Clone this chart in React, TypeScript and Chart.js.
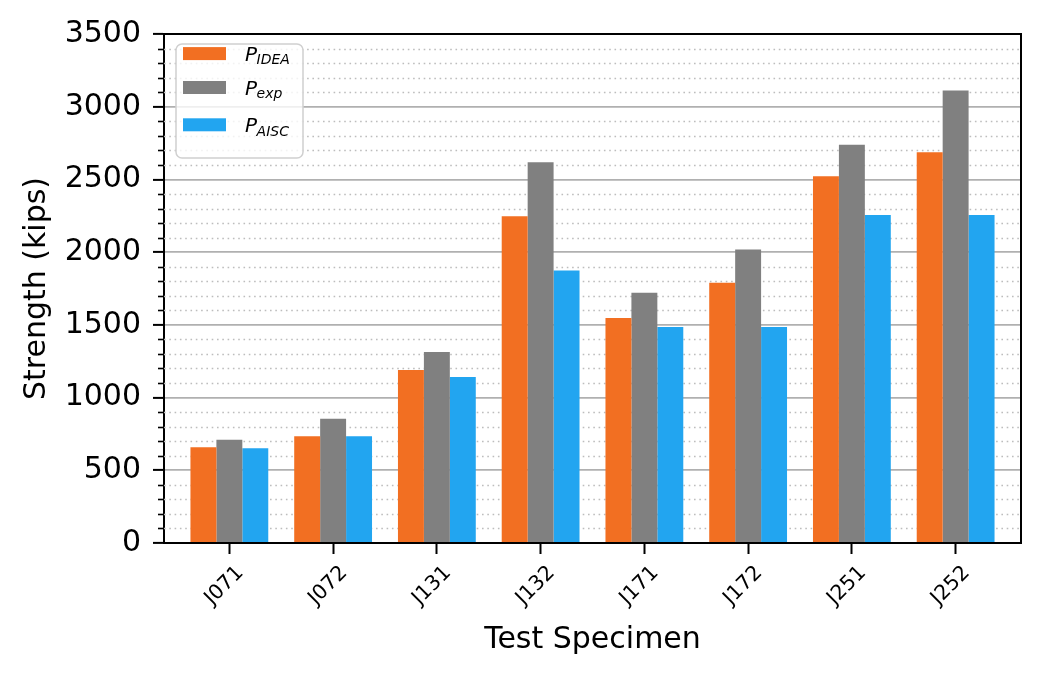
import { useEffect, useRef } from "react"
import { Chart, registerables, type ChartConfiguration, type Plugin } from "chart.js"

Chart.register(...registerables)

// data
const specimens = ["J071", "J072", "J131", "J132", "J171", "J172", "J251", "J252"]
const pIdea = [658, 734, 1190, 2247, 1547, 1790, 2522, 2687]
const pExp = [710, 855, 1313, 2618, 1721, 2018, 2739, 3111]
const pAisc = [651, 734, 1141, 1874, 1486, 1486, 2256, 2256]

const seriesSubs = ["IDEA", "exp", "AISC"]
const seriesColors = ["#f26f22", "#808080", "#22a5f0"]

const yMax = 3500
const majorStep = 500
const minorStep = 100

const FONT = "'DejaVu Sans', 'Noto Sans', sans-serif"

// dotted minor grid + minor ticks on the left spine
const minorGrid: Plugin = {
  id: "minorGrid",
  beforeDatasetsDraw(chart) {
    const { ctx, chartArea } = chart
    const y = chart.scales.y
    ctx.save()
    for (let v = minorStep; v < yMax; v += minorStep) {
      if (v % majorStep === 0) continue
      const py = Math.round(y.getPixelForValue(v)) + 0.5
      ctx.strokeStyle = "#bdbdbd"
      ctx.lineWidth = 1.6
      ctx.setLineDash([1.6, 3.7])
      ctx.beginPath()
      ctx.moveTo(chartArea.left, py)
      ctx.lineTo(chartArea.right, py)
      ctx.stroke()
      ctx.setLineDash([])
      ctx.strokeStyle = "#000"
      ctx.lineWidth = 1.6
      ctx.beginPath()
      ctx.moveTo(chartArea.left - 6, py)
      ctx.lineTo(chartArea.left, py)
      ctx.stroke()
    }
    ctx.restore()
  },
}

// top/right spines and the legend with subscripts
const frameAndLegend: Plugin = {
  id: "frameAndLegend",
  afterDraw(chart) {
    const { ctx, chartArea } = chart
    const { left, top, right } = chartArea
    ctx.save()
    ctx.strokeStyle = "#000"
    ctx.lineWidth = 2
    ctx.beginPath()
    ctx.moveTo(left, top)
    ctx.lineTo(right, top)
    ctx.lineTo(right, chartArea.bottom)
    ctx.stroke()

    // legend box
    const bx = left + 12
    const by = top + 10
    ctx.beginPath()
    ctx.roundRect(bx, by, 127, 114, 6)
    ctx.fillStyle = "rgba(255,255,255,0.8)"
    ctx.fill()
    ctx.strokeStyle = "#d0d0d0"
    ctx.lineWidth = 1.5
    ctx.stroke()

    const rowCenters = [19.6, 53.5, 90.8]
    seriesSubs.forEach((sub, i) => {
      const cy = top + rowCenters[i]
      ctx.fillStyle = seriesColors[i]
      ctx.fillRect(left + 19, cy - 6.5, 43, 13)
      ctx.fillStyle = "#000"
      ctx.textBaseline = "alphabetic"
      ctx.textAlign = "left"
      ctx.font = `italic 20px ${FONT}`
      const baseline = cy + 7.3
      const px = left + 81
      ctx.fillText("P", px, baseline)
      const w = ctx.measureText("P").width
      ctx.font = `italic 14px ${FONT}`
      ctx.fillText(sub, px + w - 0.5, baseline + 3.5)
    })
    ctx.restore()
  },
}

export default function App() {
  const chartRef = useRef<HTMLCanvasElement>(null)
  const chartInstance = useRef<Chart | null>(null)

  useEffect(() => {
    document.body.style.margin = "0"
    if (!chartRef.current) return
    if (chartInstance.current) chartInstance.current.destroy()

    const ctx = chartRef.current.getContext("2d")
    if (!ctx) return

    Chart.defaults.color = "#000"
    Chart.defaults.font.family = FONT

    const series = [pIdea, pExp, pAisc]

    const config: ChartConfiguration<"bar"> = {
      type: "bar",
      data: {
        datasets: series.map((values, i) => ({
          label: "P_" + seriesSubs[i],
          data: values.map((v, idx) => ({ x: idx, y: v })) as any,
          backgroundColor: seriesColors[i],
          borderWidth: 0,
          categoryPercentage: 0.75,
          barPercentage: 1.0,
        })),
      },
      options: {
        animation: false,
        responsive: true,
        maintainAspectRatio: false,
        layout: { padding: { left: 0, top: 34, right: 22, bottom: 0 } },
        plugins: {
          legend: { display: false },
          tooltip: { enabled: false },
        },
        scales: {
          x: {
            type: "linear",
            min: -0.63,
            max: 7.63,
            offset: false,
            afterBuildTicks: (scale) => {
              scale.ticks = specimens.map((_, i) => ({ value: i }))
            },
            afterFit: (scale) => {
              scale.height = 136
            },
            ticks: {
              autoSkip: false,
              maxRotation: 45,
              minRotation: 45,
              font: { size: 20.5 },
              padding: 7,
              labelOffset: 11,
              callback: (value) => specimens[value as number] ?? "",
            },
            grid: {
              offset: false,
              drawOnChartArea: false,
              drawTicks: true,
              tickLength: 11,
              tickColor: "#000",
              tickWidth: 2,
            },
            border: { display: true, color: "#000", width: 2 },
            title: {
              display: true,
              text: "Test Specimen",
              font: { size: 30 },
              padding: { top: 0, bottom: 21 },
            },
          },
          y: {
            min: 0,
            max: yMax,
            afterFit: (scale) => {
              scale.width = 164
            },
            ticks: {
              stepSize: majorStep,
              font: { size: 30 },
              padding: 12,
              callback: (value) => String(value),
            },
            grid: {
              color: "#b0b0b0",
              lineWidth: 1.8,
              tickColor: "#000",
              tickWidth: 2,
              tickLength: 11,
            },
            border: { display: true, color: "#000", width: 2 },
            title: {
              display: true,
              text: "Strength (kips)",
              font: { size: 30 },
              padding: { top: 19, bottom: 0 },
            },
          },
        },
      },
      plugins: [minorGrid, frameAndLegend],
    }

    chartInstance.current = new Chart(ctx, config)

    return () => {
      if (chartInstance.current) {
        chartInstance.current.destroy()
        chartInstance.current = null
      }
    }
  }, [])

  return (
    <div style={{ position: "relative", width: 1043, height: 679, background: "#fff" }}>
      <canvas ref={chartRef} />
    </div>
  )
}
